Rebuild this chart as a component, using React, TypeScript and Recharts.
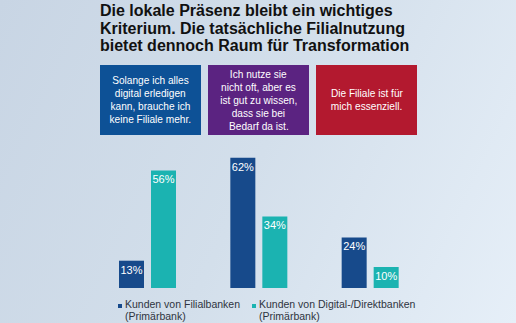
import React from 'react';
import { BarChart, Bar, XAxis, YAxis, Legend, LabelList } from 'recharts';

const categories = [
  'Solange ich alles digital erledigen kann, brauche ich keine Filiale mehr.',
  'Ich nutze sie nicht oft, aber es ist gut zu wissen, dass sie bei Bedarf da ist.',
  'Die Filiale ist für mich essenziell.',
];
const boxLines = [
  ['Solange ich alles', 'digital erledigen', 'kann, brauche ich', 'keine Filiale mehr.'],
  ['Ich nutze sie', 'nicht oft, aber es', 'ist gut zu wissen,', 'dass sie bei', 'Bedarf da ist.'],
  ['Die Filiale ist für', 'mich essenziell.'],
];
const boxColors = ['#0d5196', '#5b2381', '#b3192f'];
const filialbanken = [13, 62, 24];
const direktbanken = [56, 34, 10];
const seriesNames = ['Kunden von Filialbanken (Primärbank)', 'Kunden von Digital-/Direktbanken (Primärbank)'];

const data = categories.map((c, i) => ({
  category: c,
  filial: filialbanken[i],
  direkt: direktbanken[i],
}));

const font = '"Liberation Sans", Arial, sans-serif';

// legend items sit under the bar groups
const legendLeft = [118, 252];

const LegendContent: React.FC<any> = ({ payload }) => {
  const items = [...(payload || [])].sort(
    (a: any, b: any) => seriesNames.indexOf(a.value) - seriesNames.indexOf(b.value)
  );
  return (
    <div style={{ position: 'relative', fontFamily: font, fontSize: 10.5, color: '#2e3440', lineHeight: '12px', whiteSpace: 'nowrap' }}>
      {items.map((entry: any, i: number) => {
        const [first, ...rest] = String(entry.value).split(' (');
        return (
          <div key={i} style={{ position: 'absolute', left: legendLeft[i], top: 0, display: 'flex' }}>
            <span style={{ display: 'inline-block', width: 4, height: 4, background: entry.color, marginTop: 6, marginRight: 3, flexShrink: 0 }} />
            <div>
              <div>{first}</div>
              <div>({rest.join(' (')}</div>
            </div>
          </div>
        );
      })}
    </div>
  );
};

export default function App() {
  return (
    <div
      style={{
        position: 'absolute',
        left: 0,
        top: 0,
        width: 516,
        height: 323,
        overflow: 'hidden',
        background: 'linear-gradient(115deg, #c8d5e4 0%, #d3dfeb 50%, #e6eff8 100%)',
        fontFamily: font,
      }}
    >
      <div
        style={{
          position: 'absolute',
          left: 100,
          top: 2,
          fontSize: 16,
          fontWeight: 'bold',
          lineHeight: '17.5px',
          color: '#111',
        }}
      >
        <div>Die lokale Präsenz bleibt ein wichtiges</div>
        <div>Kriterium. Die tatsächliche Filialnutzung</div>
        <div>bietet dennoch Raum für Transformation</div>
      </div>
      {boxLines.map((lines, i) => (
        <div
          key={i}
          style={{
            position: 'absolute',
            left: 100 + i * 108,
            top: 65,
            width: 101,
            height: 70,
            background: boxColors[i],
            color: '#fff',
            fontSize: 11.5,
            lineHeight: '13px',
            display: 'flex',
            flexDirection: 'column',
            justifyContent: 'center',
            alignItems: 'center',
            textAlign: 'center',
          }}
        >
          {lines.map((l, j) => (
            <div key={j} style={{ transform: 'scaleX(0.88)', whiteSpace: 'nowrap' }}>{l}</div>
          ))}
        </div>
      ))}
      <div style={{ position: 'absolute', left: 0, top: 0 }}>
        <BarChart
          width={516}
          height={323}
          data={data}
          margin={{ top: 141, right: 90, bottom: 35, left: 92 }}
          barSize={25}
          barGap={7}
        >
          <XAxis dataKey="category" hide />
          <YAxis domain={[0, 70]} hide />
          <Legend
            content={<LegendContent />}
            wrapperStyle={{ position: 'absolute', left: 0, top: 298, width: 516 }}
          />
          <Bar dataKey="filial" name={seriesNames[0]} fill="#174a8b" isAnimationActive={false}>
            <LabelList dataKey="filial" position="insideTop" offset={5} formatter={(v: any) => `${v}%`} fill="#fff" fontSize={11} fontFamily={font} />
          </Bar>
          <Bar dataKey="direkt" name={seriesNames[1]} fill="#1bb3b1" isAnimationActive={false}>
            <LabelList dataKey="direkt" position="insideTop" offset={5} formatter={(v: any) => `${v}%`} fill="#fff" fontSize={11} fontFamily={font} />
          </Bar>
        </BarChart>
      </div>
    </div>
  );
}
